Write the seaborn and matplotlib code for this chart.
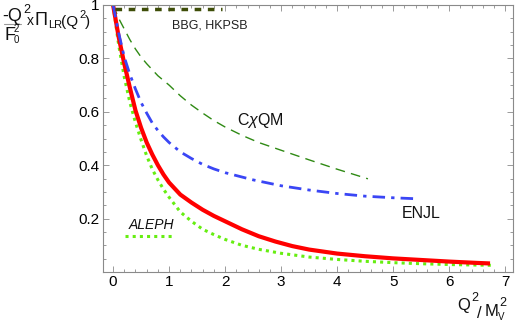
import matplotlib
matplotlib.use("Agg")
import matplotlib.pyplot as plt
import seaborn as sns
from matplotlib.ticker import MultipleLocator, FixedLocator
from matplotlib.lines import Line2D

# ---- data ----
red_x = [0.0, 0.1, 0.2, 0.3, 0.4, 0.5, 0.6, 0.7, 0.8, 0.9, 1.0, 1.2, 1.4, 1.6, 1.8, 2.0,
         2.3, 2.6, 2.9, 3.2, 3.5, 4.0, 4.5, 5.0, 5.5, 6.0, 6.5, 6.73]
red_y = [1.0, 0.88, 0.78, 0.69, 0.605, 0.54, 0.485, 0.44, 0.40, 0.365, 0.335, 0.29, 0.26,
         0.233, 0.21, 0.19, 0.16, 0.134, 0.114, 0.097, 0.084, 0.069, 0.059, 0.051, 0.045,
         0.039, 0.034, 0.032]

aleph_x = [0.0, 0.1, 0.2, 0.3, 0.4, 0.5, 0.6, 0.7, 0.8, 0.9, 1.0, 1.2, 1.4, 1.6, 1.8, 2.0,
           2.3, 2.6, 3.0, 3.5, 4.0, 4.5, 5.0, 5.5, 6.0, 6.5, 6.8]
aleph_y = [1.0, 0.85, 0.73, 0.635, 0.56, 0.495, 0.435, 0.385, 0.345, 0.31, 0.28, 0.225,
           0.19, 0.16, 0.14, 0.122, 0.10, 0.085, 0.07, 0.056, 0.047, 0.04, 0.035, 0.031,
           0.028, 0.026, 0.025]

enjl_x = [0.0, 0.1, 0.2, 0.3, 0.4, 0.5, 0.6, 0.7, 0.8, 0.9, 1.0, 1.2, 1.4, 1.6, 1.8, 2.0,
          2.5, 3.0, 3.5, 4.0, 4.5, 5.0, 5.45]
enjl_y = [1.0, 0.895, 0.805, 0.74, 0.685, 0.635, 0.595, 0.558, 0.53, 0.506, 0.485, 0.45,
          0.425, 0.403, 0.386, 0.372, 0.345, 0.323, 0.307, 0.294, 0.284, 0.278, 0.274]

cqm_x = [0.0, 0.1, 0.2, 0.3, 0.4, 0.5, 0.6, 0.8, 1.0, 1.2, 1.4, 1.6, 1.8, 2.0, 2.3, 2.6,
         3.0, 3.5, 4.0, 4.55]
cqm_y = [1.0, 0.95, 0.91, 0.87, 0.835, 0.805, 0.78, 0.735, 0.70, 0.66, 0.625, 0.595,
         0.567, 0.543, 0.512, 0.485, 0.456, 0.42, 0.385, 0.349]

bbg_x = [0.04, 1.95]
bbg_y = [0.985, 0.985]

aleph_key_x = [0.22, 1.07]
aleph_key_y = [0.135, 0.135]

xticks = [0, 1, 2, 3, 4, 5, 6, 7]
yticks = [0.2, 0.4, 0.6, 0.8, 1.0]
ytick_labels = ["0.2", "0.4", "0.6", "0.8", "1"]

# ---- style ----
sns.set_style("ticks")
plt.rcParams["font.family"] = ["Liberation Sans", "DejaVu Sans"]
plt.rcParams["mathtext.fontset"] = "custom"
plt.rcParams["mathtext.rm"] = "Liberation Sans"
plt.rcParams["mathtext.it"] = "Liberation Sans:italic"
plt.rcParams["mathtext.bf"] = "Liberation Sans:bold"

W, H = 519, 327
fig = plt.figure(figsize=(W / 100, H / 100), dpi=100)
ax = fig.add_axes([103 / W, 1 - 272 / H, (513 - 103) / W, (272 - 5) / H])

def line(x, y, color, lw, dashes=None, cap="butt"):
    sns.lineplot(x=x, y=y, ax=ax, color=color, linewidth=lw, sort=False,
                 estimator=None)
    ln = ax.lines[-1]
    if dashes is not None:
        ln.set_dashes(dashes)
    ln.set_dash_capstyle(cap)
    ln.set_solid_capstyle(cap)
    ln.set_solid_joinstyle("round")
    return ln

line(cqm_x, cqm_y, "#2f8a14", 1.0, dashes=(7, 4.5))
line(aleph_x, aleph_y, "#66ee11", 2.2, dashes=(1.0, 1.35))
line(red_x, red_y, "#ff0000", 3.0)
line(enjl_x, enjl_y, "#3a46f5", 2.0, dashes=(4.5, 2.2, 1.2, 2.2))
line(aleph_key_x, aleph_key_y, "#66ee11", 2.2, dashes=(1.0, 1.35))
line(bbg_x, bbg_y, "#3e4d08", 2.5, dashes=(1.9, 1.9))

ax.set_xlim(-0.18, 7.14)
ax.set_ylim(0, 1)
ax.xaxis.set_major_locator(FixedLocator(xticks))
ax.xaxis.set_minor_locator(MultipleLocator(0.2))
ax.yaxis.set_major_locator(FixedLocator(yticks))
ax.set_yticklabels(ytick_labels)
ax.yaxis.set_minor_locator(MultipleLocator(0.05))

for s in ax.spines.values():
    s.set_color("#8a8a8a")
    s.set_linewidth(0.8)
ax.tick_params(which="both", direction="in", top=True, right=True,
               color="#8a8a8a", width=0.6, labelsize=11, labelcolor="black")
ax.tick_params(which="major", length=4, pad=2.5)
ax.tick_params(which="minor", length=2)
ax.set_xlabel("")
ax.set_ylabel("")

# annotations
ax.text(1.05, 0.922, "BBG, HKPSB", fontsize=9, va="center", ha="left", color="#222222")
ax.text(2.21, 0.566, r"C$\chi$QM", fontsize=11.5, va="center", ha="left", color="#111111")
ax.text(5.16, 0.22, "ENJL", fontsize=11.5, va="center", ha="left", color="#111111")
ax.text(0.27, 0.176, "ALEPH", fontsize=10, va="center", ha="left", style="italic",
        color="#111111")

# y label (fraction drawn in pieces)
def ft(xp, yp, s, fs, **kw):
    fig.text(xp / W, 1 - yp / H, s, fontsize=fs, ha="left", va="baseline",
             color="#111111", **kw)

ft(2, 21, "-Q", 13)
ft(23, 13, "2", 9)
fig.add_artist(Line2D([4 / W, 21 / W], [1 - 24 / H, 1 - 24 / H], color="#999999",
                      linewidth=0.8))
ft(4, 40, "F", 13)
ft(14, 43, "0", 7)
ft(14, 32, "2", 7)
ft(27, 25, "x", 10)
ft(34, 25, r"$\Pi$", 13)
ft(48, 28, "LR", 8)
ft(61, 26, "(Q", 11)
ft(79, 18, "2", 8)
ft(85, 26, ")", 11)

# x label
ft(457, 310, "Q", 12)
ft(471, 301, "2", 9)
ft(477, 318, "/", 12)
ft(485, 316, "M", 12)
ft(498, 320, "V", 7)
ft(499, 306, "2", 9)

fig.savefig("out.png", dpi=100)
